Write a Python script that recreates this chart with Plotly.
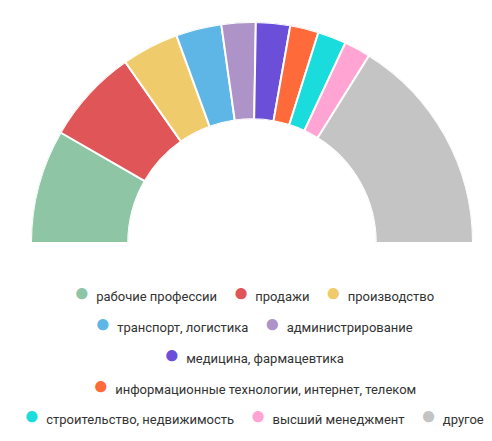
import plotly.graph_objects as go

# Share of vacancies by field (degrees of the half circle)
categories = ["рабочие профессии", "продажи", "производство", "транспорт, логистика",
              "администрирование", "медицина, фармацевтика",
              "информационные технологии, интернет, телеком",
              "строительство, недвижимость", "высший менеджмент", "другое"]
values = [30, 25, 15, 12, 9, 9, 7.5, 7.5, 7, 58]
colors = ["#8dc5a5", "#e05557", "#f0cb6b", "#5db6e6", "#ad93c8", "#6b4fd8",
          "#ff6a3a", "#1bdcdc", "#ffa4d3", "#c4c4c4"]
legend_rows = [[0, 1, 2], [3, 4], [5], [6], [7, 8, 9]]

total = sum(values)
thetas, widths = [], []
start = 0
for v in values:
    w = v / total * 180
    thetas.append(start + w / 2)
    widths.append(w)
    start += w

fig = go.Figure(go.Barpolar(
    r=[1] * len(values), theta=thetas, width=widths,
    marker=dict(color=colors, line=dict(color="white", width=2)),
    hoverinfo="text", hovertext=categories,
))

fig.update_layout(
    width=492, height=441, showlegend=False,
    margin=dict(l=0, r=0, t=0, b=0),
    paper_bgcolor="white",
    font=dict(family="Roboto, Arial, sans-serif", size=13, color="#333"),
    polar=dict(
        domain=dict(x=[22 / 492, 466 / 492], y=[1 - 235 / 441, 1 - 14 / 441]),
        sector=[0, 180], hole=0.56, bgcolor="rgba(0,0,0,0)",
        radialaxis=dict(visible=False, range=[0, 1]),
        angularaxis=dict(visible=False, direction="clockwise", rotation=180),
    ),
)

row_y = [284, 315, 346, 377, 407]
for row, y in zip(legend_rows, row_y):
    parts = [f"<span style='color:{colors[i]};font-size:26px'>●</span>  {categories[i]}"
             for i in row]
    fig.add_annotation(text="     ".join(parts), x=0.5, y=1 - y / 441,
                       xref="paper", yref="paper", showarrow=False,
                       xanchor="center", yanchor="middle")

fig.write_html("out.html")
